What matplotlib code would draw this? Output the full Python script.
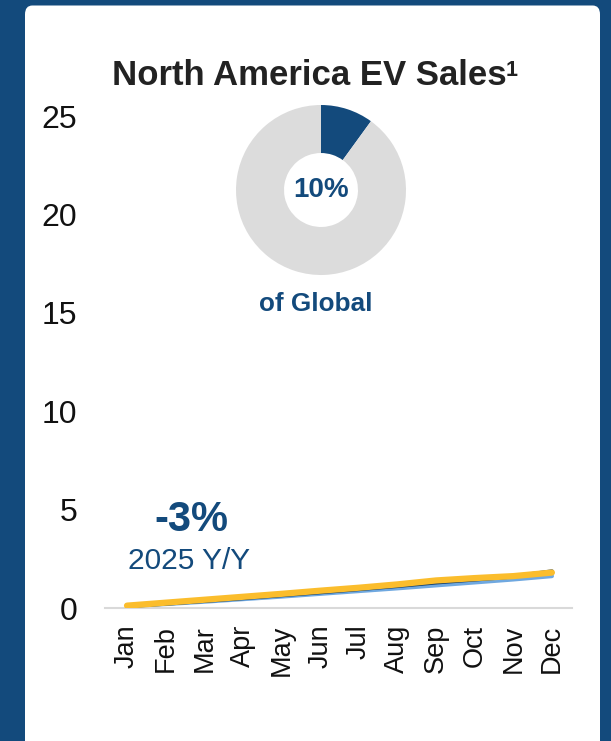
import matplotlib
matplotlib.use("Agg")
import matplotlib.pyplot as plt
from matplotlib.patches import FancyBboxPatch

plt.rcParams['font.family'] = ['Liberation Sans', 'DejaVu Sans']

# DATA
months = ["Jan", "Feb", "Mar", "Apr", "May", "Jun", "Jul", "Aug", "Sep", "Oct", "Nov", "Dec"]
sales_light = [0.10, 0.20, 0.32, 0.45, 0.58, 0.72, 0.86, 1.00, 1.15, 1.30, 1.45, 1.62]
sales_navy = [0.10, 0.22, 0.36, 0.50, 0.65, 0.80, 0.96, 1.12, 1.30, 1.45, 1.60, 1.86]
sales_yellow = [0.12, 0.27, 0.42, 0.57, 0.72, 0.88, 1.03, 1.20, 1.40, 1.52, 1.62, 1.80]
yticks = [0, 5, 10, 15, 20, 25]
share = [10, 90]

NAVY = "#134a7c"
W, H = 611, 741

fig = plt.figure(figsize=(W / 100, H / 100), dpi=100)
fig.patch.set_facecolor(NAVY)

# white card
card = FancyBboxPatch((25 / W, -0.05), 575 / W, 1.05 - 5.5 / H,
                      boxstyle="round,pad=0,rounding_size=0.012",
                      transform=fig.transFigure, facecolor="white",
                      edgecolor="none", zorder=-5)
fig.patches.append(card)

# line chart
ax = fig.add_axes([105 / W, (H - 608) / H, 467 / W, 492 / H])
ax.set_facecolor("none")
x = list(range(len(months)))
ax.plot(x, sales_light, color="#6fa8e0", lw=3, solid_capstyle="round")
ax.plot(x, sales_navy, color="#0f3c6a", lw=3, solid_capstyle="round")
ax.plot(x, sales_yellow, color="#fbbd2c", lw=4.5, solid_capstyle="round")
ax.axhline(0, color="#d9d9d9", lw=1.5, zorder=0, clip_on=False)
ax.set_xlim(-0.57, 11.52)
ax.set_ylim(0, 25)
ax.set_yticks(yticks)
ax.set_yticklabels([str(v) for v in yticks], fontsize=23, color="#111111")
ax.set_xticks(x)
ax.set_xticklabels(months, rotation=90, fontsize=19.5, color="#111111", va="top")
ax.tick_params(axis="y", length=0, pad=20)
ax.tick_params(axis="x", length=0, pad=12)
for s in ax.spines.values():
    s.set_visible(False)

# donut
pax = fig.add_axes([236 / W, (H - 275) / H, 170 / W, 170 / H])
pax.pie(share, colors=[NAVY, "#dcdcdc"], startangle=90, counterclock=False,
        wedgeprops=dict(width=0.565, edgecolor="none"))
pax.set_xlim(-1, 1)
pax.set_ylim(-1, 1)
pax.set_aspect("equal")
pax.text(0, 0, "10%", ha="center", va="center", fontsize=20,
         fontweight="bold", color=NAVY)


def ftext(px, py, s, va="center", **kw):
    fig.text(px / W, 1 - py / H, s, ha="center", va=va, **kw)


ftext(309, 85, "North America EV Sales", va="baseline", fontsize=25,
      fontweight="bold", color="#222222")
ftext(512, 76, "1", va="baseline", fontsize=15.5, fontweight="bold", color="#222222")
ftext(316, 304, "of Global", fontsize=18.8, fontweight="bold", color=NAVY)
ftext(191, 520, "-3%", fontsize=30, fontweight="bold", color=NAVY)
ftext(189, 561, "2025 Y/Y", fontsize=21.5, color=NAVY)

fig.savefig("out.png", dpi=100, facecolor=fig.get_facecolor())
